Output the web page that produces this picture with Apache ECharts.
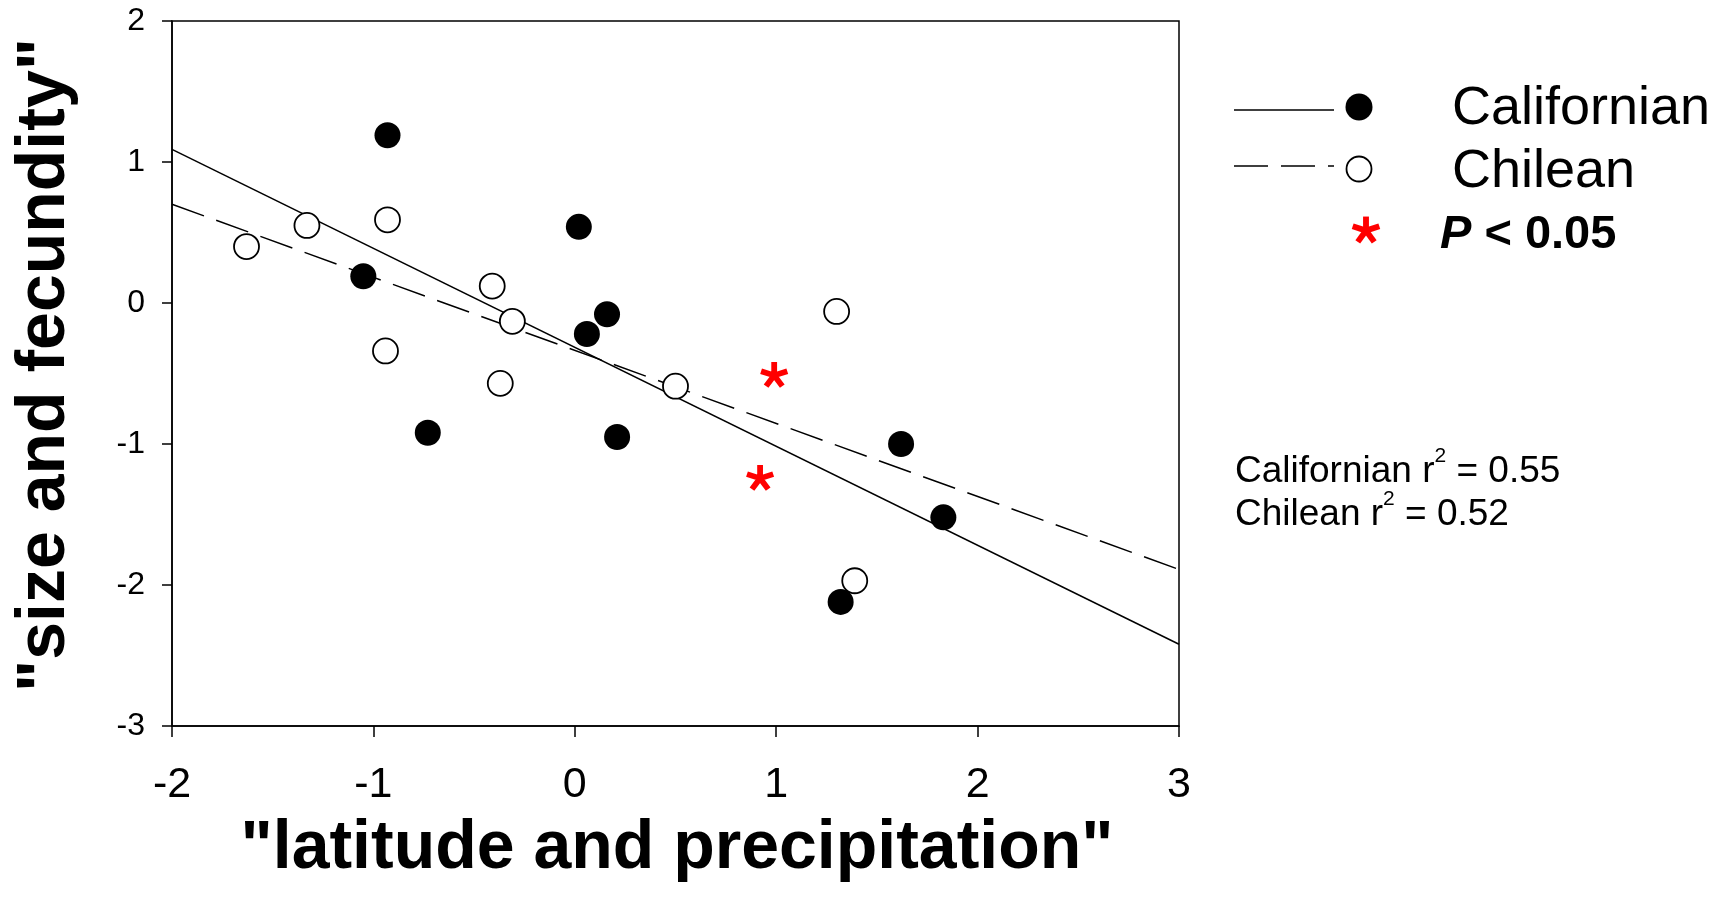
<!DOCTYPE html>
<html>
<head>
<meta charset="utf-8">
<script src="https://cdn.jsdelivr.net/npm/echarts@6/dist/echarts.min.js"></script>
<style>
html,body{margin:0;padding:0;background:#fff;}
#chart{width:1722px;height:907px;}
</style>
</head>
<body>
<div id="chart"></div>
<script>
// ---- data ----
const californian = [[-0.93,1.19],[-1.05,0.19],[0.02,0.54],[0.16,-0.08],[0.06,-0.22],[-0.73,-0.92],[0.21,-0.95],[1.62,-1.00],[1.83,-1.52],[1.32,-2.12]];
const chilean = [[-1.63,0.40],[-1.33,0.55],[-0.93,0.59],[-0.41,0.12],[-0.31,-0.13],[-0.94,-0.34],[-0.37,-0.57],[0.50,-0.59],[1.30,-0.06],[1.39,-1.97]];
const significant = [[0.99,-0.51],[0.92,-1.24]];
const californianFit = [[-2,1.09],[3,-2.42]];
const chileanFit = [[-2,0.70],[3,-1.89]];
const xRange = [-2, 3];
const yRange = [-3, 2];
const xTitle = '"latitude and precipitation"';
const yTitle = '"size and fecundity"';
const legendNames = ['Californian', 'Chilean', 'P < 0.05'];
const r2Names = ['Californian', 'Chilean'];
const r2Values = ['0.55', '0.52'];

const FONT = '"Liberation Sans", Arial, Helvetica, sans-serif';

// five-armed asterisk geometry (100x100 design box)
function asteriskArms() {
  const c = 50, L = 50, w = 21, back = 6, arms = [];
  for (let k = 0; k < 5; k++) {
    const t = k * 72 * Math.PI / 180;
    const dx = Math.sin(t), dy = -Math.cos(t);
    const px = Math.cos(t), py = Math.sin(t);
    const bx = c - dx * back, by = c - dy * back;
    arms.push([
      [bx - px * w / 2, by - py * w / 2],
      [bx + px * w / 2, by + py * w / 2],
      [c + dx * L + px * w / 2, c + dy * L + py * w / 2],
      [c + dx * L - px * w / 2, c + dy * L - py * w / 2]
    ]);
  }
  return arms;
}
const ARMS = asteriskArms();
const STAR = 'path://' + ARMS.map(a => 'M' + a.map(p => p[0].toFixed(2) + ' ' + p[1].toFixed(2)).join(' L') + ' Z').join(' ');

function legendStar(cx, cy, size) {
  const s = size / 100;
  return ARMS.map(a => ({
    type: 'polygon',
    shape: {points: a.map(p => [cx + (p[0] - 50) * s, cy + (p[1] - 48) * s])},
    style: {fill: '#ff0000'}
  }));
}

function r2Text(i, x, y) {
  return {
    type: 'text', x: x, y: y,
    style: {
      text: '{a|' + r2Names[i] + ' r}{s|2}{a| = ' + r2Values[i] + '}',
      fill: '#000', textAlign: 'left', textVerticalAlign: 'middle', verticalAlign: 'middle',
      font: '37px ' + FONT,
      rich: {
        a: {fontSize: 37, fontFamily: FONT, lineHeight: 52, verticalAlign: 'middle', fill: '#000', color: '#000'},
        s: {fontSize: 21, fontFamily: FONT, lineHeight: 52, verticalAlign: 'top', fill: '#000', color: '#000'}
      }
    }
  };
}

const chart = echarts.init(document.getElementById('chart'), null, {renderer: 'canvas'});

const option = {
  backgroundColor: '#fff',
  animation: false,
  grid: {
    left: 172, right: 543, top: 21, bottom: 181,
    show: true, borderColor: '#000', borderWidth: 1.5, backgroundColor: 'transparent'
  },
  xAxis: {
    type: 'value', min: xRange[0], max: xRange[1], interval: 1,
    axisLine: {show: true, onZero: false, lineStyle: {color: '#000', width: 1.5}},
    axisTick: {show: true, inside: false, length: 11, lineStyle: {color: '#000', width: 1.5}},
    axisLabel: {color: '#000', fontFamily: FONT, fontSize: 43, margin: 38},
    splitLine: {show: false}
  },
  yAxis: {
    type: 'value', min: yRange[0], max: yRange[1], interval: 1,
    axisLine: {show: true, onZero: false, lineStyle: {color: '#000', width: 1.5}},
    axisTick: {show: true, inside: false, length: 10, lineStyle: {color: '#000', width: 1.5}},
    axisLabel: {color: '#000', fontFamily: FONT, fontSize: 32, margin: 27},
    splitLine: {show: false}
  },
  series: [
    {
      name: 'Californian fit', type: 'line', data: californianFit, symbol: 'none',
      lineStyle: {color: '#000', width: 1.5, type: 'solid'}, z: 2, silent: true
    },
    {
      name: 'Chilean fit', type: 'line', data: chileanFit, symbol: 'none',
      lineStyle: {color: '#000', width: 1.5, type: [34, 13]}, z: 2, silent: true
    },
    {
      name: legendNames[0], type: 'scatter', data: californian, symbol: 'circle', symbolSize: 26,
      itemStyle: {color: '#000', opacity: 1}, z: 3
    },
    {
      name: legendNames[1], type: 'scatter', data: chilean, symbol: 'circle', symbolSize: 25,
      itemStyle: {color: '#fff', borderColor: '#000', borderWidth: 1.8, opacity: 1}, z: 3
    },
    {
      name: legendNames[2], type: 'scatter', data: significant, symbol: STAR,
      symbolSize: [28, 27], symbolKeepAspect: true,
      itemStyle: {color: '#ff0000', opacity: 1}, z: 4
    }
  ],
  graphic: [
    // axis titles
    {type: 'text', x: 677, y: 849, z: 10,
     style: {text: xTitle, font: 'bold 68px ' + FONT, fill: '#000', textAlign: 'center', textVerticalAlign: 'middle', verticalAlign: 'middle'}},
    {type: 'text', x: 45, y: 365, rotation: Math.PI / 2, z: 10,
     style: {text: yTitle, font: 'bold 68px ' + FONT, fill: '#000', textAlign: 'center', textVerticalAlign: 'middle', verticalAlign: 'middle'}},
    // legend
    {type: 'line', shape: {x1: 1234, y1: 110, x2: 1334, y2: 110}, style: {stroke: '#000', lineWidth: 1.5}},
    {type: 'circle', shape: {cx: 1359, cy: 107, r: 13.5}, style: {fill: '#000'}},
    {type: 'text', x: 1452, y: 109,
     style: {text: legendNames[0], font: '54px ' + FONT, fill: '#000', textAlign: 'left', textVerticalAlign: 'middle', verticalAlign: 'middle'}},
    {type: 'line', shape: {x1: 1234, y1: 166, x2: 1334, y2: 166}, style: {stroke: '#000', lineWidth: 1.5, lineDash: [34, 13]}},
    {type: 'circle', shape: {cx: 1359, cy: 169, r: 12.5}, style: {fill: '#fff', stroke: '#000', lineWidth: 1.8}},
    {type: 'text', x: 1452, y: 172,
     style: {text: legendNames[1], font: '54px ' + FONT, fill: '#000', textAlign: 'left', textVerticalAlign: 'middle', verticalAlign: 'middle'}},
    ...legendStar(1366, 230, 28),
    {type: 'text', x: 1440, y: 235,
     style: {text: '{i|P}{n| < 0.05}', font: 'bold 47px ' + FONT, fill: '#000', textAlign: 'left', textVerticalAlign: 'middle', verticalAlign: 'middle',
       rich: {i: {fontStyle: 'italic', fontWeight: 'bold', fontSize: 47, fontFamily: FONT}, n: {fontWeight: 'bold', fontSize: 47, fontFamily: FONT}}}},
    // r-squared annotations
    r2Text(0, 1235, 472),
    r2Text(1, 1235, 515)
  ]
};
chart.setOption(option);
</script>
</body>
</html>
